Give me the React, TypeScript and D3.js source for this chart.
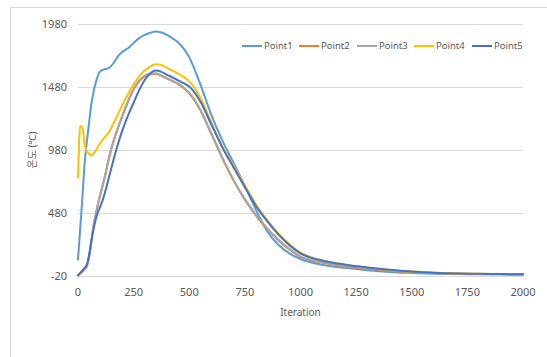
import React from "react";
import * as d3 from "d3";

const iterations = [0, 10, 20, 30, 40, 50, 60, 70, 80, 90, 100, 120, 140, 160, 180, 200, 225, 250, 275, 300, 325, 350, 375, 400, 425, 450, 475, 500, 550, 600, 650, 700, 750, 800, 850, 900, 950, 1000, 1100, 1200, 1300, 1400, 1500, 1600, 1700, 1800, 1900, 2000];

const point1 = [110, 360, 610, 880, 1050, 1200, 1345, 1440, 1515, 1570, 1605, 1622, 1632, 1670, 1725, 1760, 1788, 1830, 1868, 1893, 1910, 1920, 1912, 1893, 1866, 1833, 1785, 1715, 1500, 1255, 1050, 875, 695, 505, 335, 228, 160, 115, 68, 45, 26, 12, 4, -2, -5, -6, -7, -8];
const point2 = [-15, 0, 15, 33, 58, 128, 248, 382, 468, 552, 622, 762, 920, 1050, 1155, 1250, 1365, 1460, 1525, 1565, 1582, 1586, 1568, 1546, 1526, 1503, 1470, 1430, 1295, 1105, 910, 735, 585, 460, 354, 264, 190, 131, 84, 56, 38, 20, 10, 3, -2, -4, -6, -7];
const point3 = [-15, 0, 15, 35, 60, 130, 250, 385, 470, 555, 625, 765, 925, 1055, 1160, 1255, 1370, 1465, 1530, 1570, 1587, 1590, 1572, 1550, 1530, 1507, 1475, 1435, 1300, 1110, 915, 740, 590, 465, 360, 270, 195, 135, 88, 60, 42, 24, 12, 4, -1, -4, -5, -6];
const point4 = [760, 1170, 1160, 1020, 970, 950, 935, 950, 975, 1005, 1035, 1080, 1125, 1195, 1265, 1340, 1425, 1500, 1565, 1610, 1643, 1660, 1655, 1630, 1610, 1585, 1560, 1525, 1395, 1195, 1005, 852, 698, 548, 425, 318, 232, 165, 104, 71, 47, 28, 15, 6, 0, -3, -5, -6];
const point5 = [-15, 5, 25, 45, 72, 150, 260, 352, 430, 490, 530, 635, 770, 905, 1030, 1140, 1255, 1355, 1455, 1535, 1590, 1610, 1600, 1577, 1557, 1533, 1510, 1484, 1365, 1180, 995, 840, 685, 535, 415, 310, 225, 160, 101, 70, 48, 30, 16, 6, 0, -3, -5, -6];

const seriesNames = ["Point1", "Point2", "Point3", "Point4", "Point5"];
const seriesValues = [point1, point2, point3, point4, point5];
const seriesColors = ["#5B9BD5", "#ED7D31", "#A5A5A5", "#FFC000", "#4472C4"];

const yTicks = [-20, 480, 980, 1480, 1980];
const xTicks = [0, 250, 500, 750, 1000, 1250, 1500, 1750, 2000];

const xTitle = "Iteration";
const yTitle = "온도 (℃)";

const FONT = "'Noto Sans', 'Noto Sans CJK KR', sans-serif";
const TEXT = "#595959";

export default function App() {
  const x = d3.scaleLinear().domain([0, 2000]).range([78, 523]);
  const y = d3.scaleLinear().domain([-20, 1980]).range([276, 24]);
  const line = d3
    .line<[number, number]>()
    .x((d) => x(d[0]))
    .y((d) => y(d[1]))
    .curve(d3.curveMonotoneX);

  const legendX = [242, 299, 357, 414, 472];

  return (
    <svg
      width={547}
      height={357}
      style={{ position: "absolute", left: 0, top: 0, background: "#fff" }}
      fontFamily={FONT}
    >
      <rect x={10.5} y={7.5} width={600} height={400} fill="#fff" stroke="#d9d9d9" strokeWidth={1} />
      {yTicks.map((t) => (
        <g key={t}>
          <line x1={78} x2={523} y1={Math.round(y(t)) + 0.5} y2={Math.round(y(t)) + 0.5} stroke="#d9d9d9" strokeWidth={1} />
          <text x={67} y={y(t)} dy="0.35em" textAnchor="end" fontSize={11} fill={TEXT}>
            {t}
          </text>
        </g>
      ))}
      {xTicks.map((t) => (
        <text key={t} x={x(t)} y={296} textAnchor="middle" fontSize={11} fill={TEXT}>
          {t}
        </text>
      ))}
      <text x={300.5} y={316} textAnchor="middle" fontSize={10} fill={TEXT}>
        {xTitle}
      </text>
      <text
        transform={`translate(32,150) rotate(-90)`}
        textAnchor="middle"
        dy="0.35em"
        fontSize={10}
        fill={TEXT}
      >
        {yTitle}
      </text>
      {seriesValues.map((vals, i) => (
        <path
          key={seriesNames[i]}
          d={line(iterations.map((it, j) => [it, vals[j]] as [number, number])) || ""}
          fill="none"
          stroke={seriesColors[i]}
          strokeWidth={2}
          strokeLinejoin="round"
          strokeLinecap="round"
        />
      ))}
      {seriesNames.map((name, i) => (
        <g key={name} transform={`translate(${legendX[i]},46)`}>
          <line x1={0} x2={20} y1={0} y2={0} stroke={seriesColors[i]} strokeWidth={2} />
          <text x={22} y={0} dy="0.35em" fontSize={9.5} fill={TEXT}>
            {name}
          </text>
        </g>
      ))}
    </svg>
  );
}
